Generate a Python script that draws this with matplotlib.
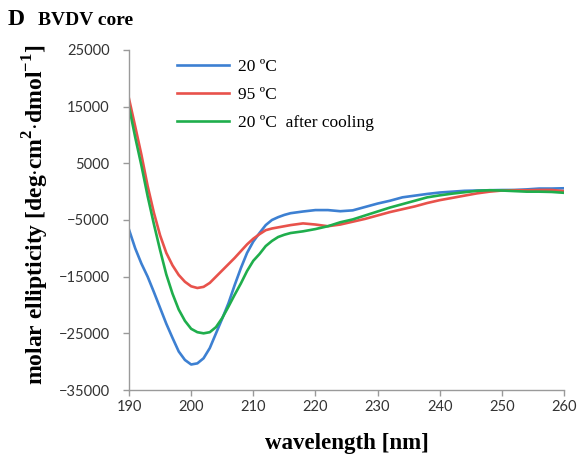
import matplotlib
matplotlib.use("Agg")
import matplotlib.pyplot as plt

# CD spectra, values
wavelength = [190, 191, 192, 193, 194, 195, 196, 197, 198, 199,
              200, 201, 202, 203, 204, 205, 206, 207, 208, 209,
              210, 211, 212, 213, 214, 215, 216, 218, 220, 222,
              224, 226, 228, 230, 232, 234, 236, 238, 240, 242,
              244, 246, 248, 250, 252, 254, 256, 258, 260]

ell_20 = [-6700, -10000, -12700, -15000, -17700, -20500, -23300, -25800, -28200, -29700,
          -30500, -30300, -29400, -27600, -25000, -22400, -19700, -16500, -13500, -10800,
          -8800, -7300, -5900, -5000, -4500, -4100, -3800, -3500, -3250, -3250,
          -3450, -3300, -2700, -2100, -1600, -1000, -700, -400, -150, 0,
          150, 200, 250, 290, 300, 400, 550, 550, 600]

ell_95 = [16400, 11500, 6500, 1000, -3700, -7700, -10800, -13000, -14700, -15900,
          -16700, -17000, -16800, -16100, -15000, -13900, -12800, -11700, -10500, -9300,
          -8300, -7500, -6800, -6500, -6300, -6100, -5900, -5600, -5800, -6100,
          -5800, -5300, -4800, -4200, -3600, -3100, -2600, -2000, -1500, -1100,
          -700, -300, 0, 200, 250, 250, 300, 300, 100]

ell_20_cooled = [15000, 9600, 4600, -800, -5700, -10300, -14600, -18000, -20800, -22800,
                 -24200, -24800, -25000, -24800, -23900, -22300, -20300, -18200, -16200, -14000,
                 -12200, -11000, -9600, -8700, -8000, -7600, -7300, -7000, -6600, -6100,
                 -5400, -4900, -4200, -3500, -2800, -2200, -1600, -1000, -650, -350,
                 -100, 150, 250, 200, 100, 0, 0, -50, -200]

labels = ["20 \u00baC", "95 \u00baC", "20 \u00baC  after cooling"]
colors = ["#3d80d2", "#e8524b", "#1fae4c"]

plt.rcParams["mathtext.fontset"] = "custom"
plt.rcParams["mathtext.rm"] = "Liberation Serif:bold"
plt.rcParams["mathtext.bf"] = "Liberation Serif:bold"

fig = plt.figure(figsize=(5.79, 4.57), dpi=100)
ax = fig.add_axes([129 / 579, 1 - 390 / 457, (564 - 129) / 579, (390 - 50) / 457])

for y, lab, c in zip([ell_20, ell_95, ell_20_cooled], labels, colors):
    ax.plot(wavelength, y, color=c, lw=1.9, label=lab)

ax.set_xlim(190, 260)
ax.set_ylim(-35000, 25000)
ax.set_xticks(range(190, 261, 10))
ax.set_yticks(range(-35000, 25001, 10000))

for s in ["top", "right"]:
    ax.spines[s].set_visible(False)
for s in ["left", "bottom"]:
    ax.spines[s].set_color("#9a9a9a")
    ax.spines[s].set_linewidth(1.0)

ax.tick_params(axis="both", colors="#9a9a9a", labelcolor="#333333", length=4, width=1)
ax.tick_params(axis="x", pad=3)
ax.tick_params(axis="y", pad=10)
for t in ax.get_xticklabels() + ax.get_yticklabels():
    t.set_family("Lato")
    t.set_fontsize(10.5)

ax.set_xlabel("wavelength [nm]", family="Liberation Serif", fontweight="bold",
              fontsize=16.5, labelpad=14)
ax.set_ylabel(r"molar ellipticity [deg$\cdot$cm$^{\mathbf{2}}$$\cdot$dmol$^{\mathbf{-1}}$]",
              family="Liberation Serif", fontweight="bold", fontsize=17)
ax.yaxis.set_label_coords(-0.18, 0.515)

leg = ax.legend(loc="upper left", bbox_to_anchor=(168 / 579, 1 - 50 / 457),
                bbox_transform=fig.transFigure, frameon=False, borderpad=0,
                handlelength=3.0, handletextpad=0.55, labelspacing=0.7,
                prop={"family": "Liberation Serif", "size": 12.5})

fig.text(8 / 579, 1 - 25 / 457, "D", family="Liberation Serif", fontweight="bold",
         fontsize=17, va="baseline")
fig.text(38 / 579, 1 - 25 / 457, "BVDV core", family="Liberation Serif",
         fontweight="bold", fontsize=14, va="baseline")

fig.savefig("out.png", dpi=100)
